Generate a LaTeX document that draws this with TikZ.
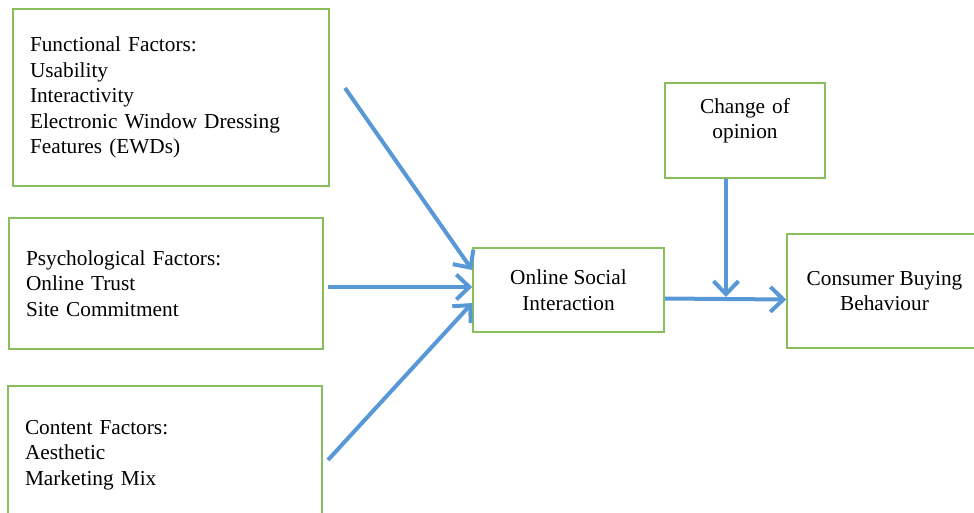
\documentclass[tikz,border=0pt]{standalone}
\usepackage{fontspec}
\setmainfont{Liberation Serif}
\usetikzlibrary{arrows.meta}

\definecolor{boxgreen}{RGB}{137,190,92}
\definecolor{flowblue}{RGB}{88,152,214}

\tikzset{
  factorbox/.style={draw=boxgreen, line width=1.6pt, inner xsep=17pt, align=left,
    font=\fontsize{21.3}{25.5}\selectfont},
  midbox/.style={draw=boxgreen, line width=1.6pt, align=center,
    font=\fontsize{21.3}{25.5}\selectfont},
  flow/.style={draw=flowblue, line width=4pt,
    -{Straight Barb[length=13pt,width=25pt]}}
}

\begin{document}
\begin{tikzpicture}[x=1pt,y=-1pt]
\useasboundingbox (0,0) rectangle (974,512);
\clip (0,0) rectangle (974,512);

% Factor boxes
\node (func) [factorbox, text width=282pt, minimum height=177pt] at (171,97.5)
  {Functional Factors:\\Usability\\Interactivity\\Electronic Window Dressing\\Features (EWDs)};
\node (psych) [factorbox, text width=280pt, minimum height=131pt] at (166,283.5)
  {Psychological Factors:\\Online Trust\\Site Commitment};
\node (content) [factorbox, text width=280pt, minimum height=138pt] at (165,455)
  {Content Factors:\\Aesthetic\\Marketing Mix};

% Middle and right boxes
\node (osi) [midbox, minimum width=191pt, minimum height=84pt] at (568.5,290)
  {Online Social\\Interaction};
\node (chg) [midbox, text width=153pt, minimum height=95pt, text depth=50pt] at (745,130.5)
  {Change of\\opinion};
\node (cbb) [midbox, minimum width=195pt, minimum height=114pt] at (884.5,291)
  {Consumer Buying\\Behaviour};

% free ends of the arrows
\coordinate (f1) at (345,88);
\coordinate (f2) at (328,287);
\coordinate (f3) at (328,460);
\coordinate (join) at (726,297);

% Arrows
\draw [flow] (f1) -- ([yshift=20pt]osi.west);
\draw [flow] (f2) -- ([yshift=3pt]osi.west);
\draw [flow] (f3) -- ([yshift=-13pt]osi.west);
\draw [flow] ([yshift=-8.5pt]osi.east) -- ([yshift=-8.5pt]cbb.west);
\draw [flow] (chg.south -| join) -- (join);

\end{tikzpicture}
\end{document}
